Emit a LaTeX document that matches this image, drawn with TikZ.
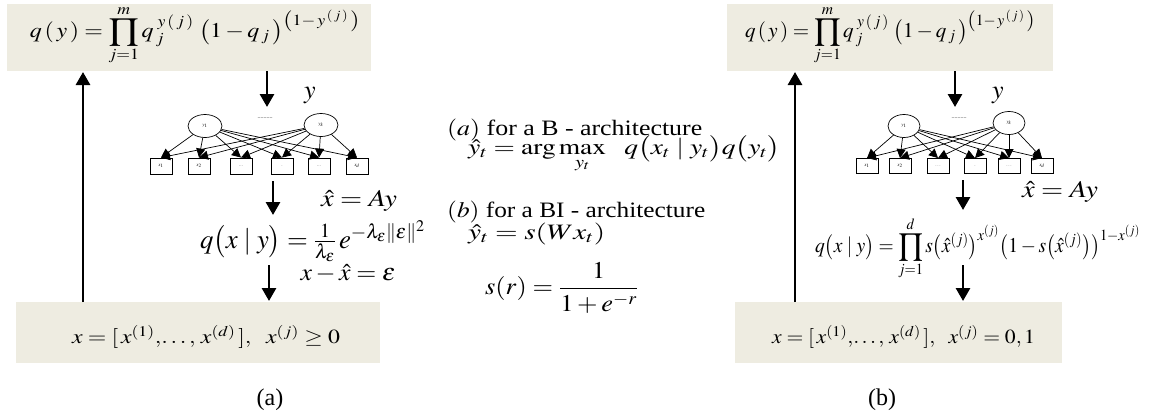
\documentclass[tikz,border=0pt]{standalone}
\usepackage{amsmath}
\usepackage{mathptmx}
\usepackage[no-math]{fontspec}
\setmainfont{Liberation Serif}
\usetikzlibrary{arrows.meta,shapes.geometric}
\definecolor{tanbg}{HTML}{EEECE1}
\newcommand{\fitw}[2]{\resizebox{#1}{\height}{#2}}
\newcommand{\myprod}{\mathop{\vcenter{\hbox{\scalebox{1.5}{$\textstyle\prod$}}}}\limits}
\begin{document}
\begin{tikzpicture}[x=1pt,y=-1pt,
  tanbox/.style={rectangle, fill=tanbg, draw=none, inner sep=0pt},
  fs/.style={font=\fontsize{#1}{#1}\selectfont, inner sep=0pt},
  bigarrow/.style={line width=2.8pt, -{Triangle[length=13pt,width=14pt]}},
  netarrow/.style={line width=0.7pt, -{Triangle[length=9pt,width=9pt]}},
  ynode/.style={ellipse, draw, line width=0.7pt, minimum width=34pt, minimum height=23pt, inner sep=0pt, font=\fontsize{5}{5}\selectfont},
  xnode/.style={rectangle, draw, line width=0.9pt, minimum width=22pt, minimum height=16pt, inner sep=0pt, font=\fontsize{5}{5}\selectfont},
  dotsnode/.style={inner sep=0pt, font=\fontsize{6}{6}\selectfont, text=gray}
]
\useasboundingbox (0,0) rectangle (1155,418);

% ================= left panel (a) =================
\node[tanbox, minimum width=364pt, minimum height=67pt] (topA) at (189,37.5) {};
\node[tanbox, minimum width=364pt, minimum height=61pt] (botA) at (198,332.5) {};
\node[fs=21] (fqyA) at (195,35) {\fitw{330pt}{$q\,(\,y\,) = \myprod_{j=1}^{m} q_{\,j}^{\;y\,(\,j\,)}\;\bigl(1 - q_{\,j}\,\bigr)^{\left(1-\,y^{\,(\,j\,)}\,\right)}$}};
\node[fs=20] (fxA) at (206,337) {\fitw{268pt}{$x = [\,x^{(1)},\!\ldots,\, x^{(d)}\,],\ \ x^{(j)} \ge 0$}};

\coordinate (upA) at (83,302);
\coordinate (upAend) at (83,72);
\draw[bigarrow] (upA) -- (upAend);
\coordinate (dnA1s) at (267,71);
\coordinate (dnA1e) at (267,107);
\draw[bigarrow] (dnA1s) -- (dnA1e);
\node[fs=26] (ylabA) at (310,95) {$y$};

\node[ynode] (yA1) at (205,126) {$y_1$};
\node[ynode] (yAk) at (321,125) {$y_k$};
\node[dotsnode] (dotsA) at (265,118) {\textbf{..........}};
\node[xnode] (xA1) at (161,166) {$x_1$};
\node[xnode] (xA2) at (199,166) {$x_2$};
\node[xnode] (xA3) at (241,166) {$...$};
\node[xnode] (xA4) at (282,166) {$\cdot$};
\node[xnode] (xA5) at (319,166) {$...$};
\node[xnode] (xA6) at (357,166) {$x_d$};
\foreach \i in {1,...,6}{
  \draw[netarrow] (yA1) -- (xA\i.north);
  \draw[netarrow] (yAk) -- (xA\i.north);
}
\coordinate (dnA2s) at (273,181);
\coordinate (dnA2e) at (273,215);
\draw[bigarrow] (dnA2s) -- (dnA2e);
\node[fs=24] (xhatA) at (359,201) {\fitw{76pt}{$\hat{x} = Ay$}};
\node[fs=27, anchor=west] (fqxA) at (200,241) {\fitw{225pt}{$q\bigl(x \mid y\bigr) = \tfrac{1}{\lambda_\varepsilon}\, e^{-\lambda_\varepsilon \|\varepsilon\|^2}$}};
\node[fs=24] (errA) at (348,273) {\fitw{95pt}{$x - \hat{x} = \varepsilon$}};
\coordinate (dnA3s) at (269,265);
\coordinate (dnA3e) at (269,301);
\draw[bigarrow] (dnA3s) -- (dnA3e);
\node[fs=24] (capA) at (270,400) {(a)};

% ================= middle text =================
\node[fs=22, anchor=base west] (midA) at (447,135) {\fitw{255pt}{$(a)$ for a B - architecture}};
\node[fs=22, anchor=base west] (midA2) at (468,154) {\fitw{312pt}{$\hat{y}_t = \arg\max\limits_{y_t}\;\;\, q\bigl(x_t \mid y_t\bigr)q\bigl(y_t\bigr)$}};
\node[fs=22, anchor=base west] (midB) at (447,217) {\fitw{258pt}{$(b)$ for a BI - architecture}};
\node[fs=22, anchor=base west] (midB2) at (468,239) {\fitw{137pt}{$\hat{y}_t = s(Wx_t)$}};
\node[fs=24, anchor=west] (sig) at (485,288) {\fitw{153pt}{$s(r) = \dfrac{1}{1+e^{-r}}$}};

% ================= right panel (b) =================
\node[tanbox, minimum width=326pt, minimum height=67pt] (topB) at (890,37.5) {};
\node[tanbox, minimum width=327pt, minimum height=61pt] (botB) at (898.5,332.5) {};
\node[fs=21] (fqyB) at (890,35) {\fitw{290pt}{$q\,(\,y\,) = \myprod_{j=1}^{m} q_{\,j}^{\;y\,(\,j\,)}\;\bigl(1 - q_{\,j}\,\bigr)^{\left(1-\,y^{\,(\,j\,)}\,\right)}$}};
\node[fs=20] (fxB) at (903.5,337) {\fitw{263pt}{$x = [\,x^{(1)},\!\ldots,\, x^{(d)}\,],\ \ x^{(j)} = 0,1$}};

\coordinate (upB) at (795,302);
\coordinate (upBend) at (795,72);
\draw[bigarrow] (upB) -- (upBend);
\coordinate (dnB1s) at (955,71);
\coordinate (dnB1e) at (955,107);
\draw[bigarrow] (dnB1s) -- (dnB1e);
\node[fs=26] (ylabB) at (998,95) {$y$};

\node[ynode, minimum width=32pt] (yB1) at (904,126) {$y_1$};
\node[ynode, minimum width=32pt] (yBk) at (1009,123) {$y_k$};
\node[dotsnode] (dotsB) at (959,118) {\textbf{..........}};
\node[xnode, minimum height=15pt] (xB1) at (867,166) {$x_1$};
\node[xnode, minimum height=15pt] (xB2) at (900,166) {$x_2$};
\node[xnode, minimum height=15pt] (xB3) at (938,166) {$\ldots$};
\node[xnode, minimum height=15pt] (xB4) at (975,166) {$\cdot$};
\node[xnode, minimum height=15pt] (xB5) at (1009,166) {$\ldots$};
\node[xnode, minimum height=15pt] (xB6) at (1042,166) {$x_d$};
\foreach \i in {1,...,6}{
  \draw[netarrow] (yB1) -- (xB\i.north);
  \draw[netarrow] (yBk) -- (xB\i.north);
}
\coordinate (dnB2s) at (963,180);
\coordinate (dnB2e) at (963,210);
\draw[bigarrow] (dnB2s) -- (dnB2e);
\node[fs=24] (xhatB) at (1060,192) {\fitw{76pt}{$\hat{x} = Ay$}};
\node[fs=21, anchor=west] (fqxB) at (815,248) {\fitw{325pt}{$q\bigl(x \mid y\bigr) = \myprod_{j=1}^{d} s\bigl(\hat{x}^{(j)}\bigr)^{x^{(j)}}\bigl(1 - s\bigl(\hat{x}^{(j)}\bigr)\bigr)^{1-x^{(j)}}$}};
\coordinate (dnB3s) at (963,265);
\coordinate (dnB3e) at (963,301);
\draw[bigarrow] (dnB3s) -- (dnB3e);
\node[fs=24] (capB) at (882,400) {(b)};
\end{tikzpicture}
\end{document}
